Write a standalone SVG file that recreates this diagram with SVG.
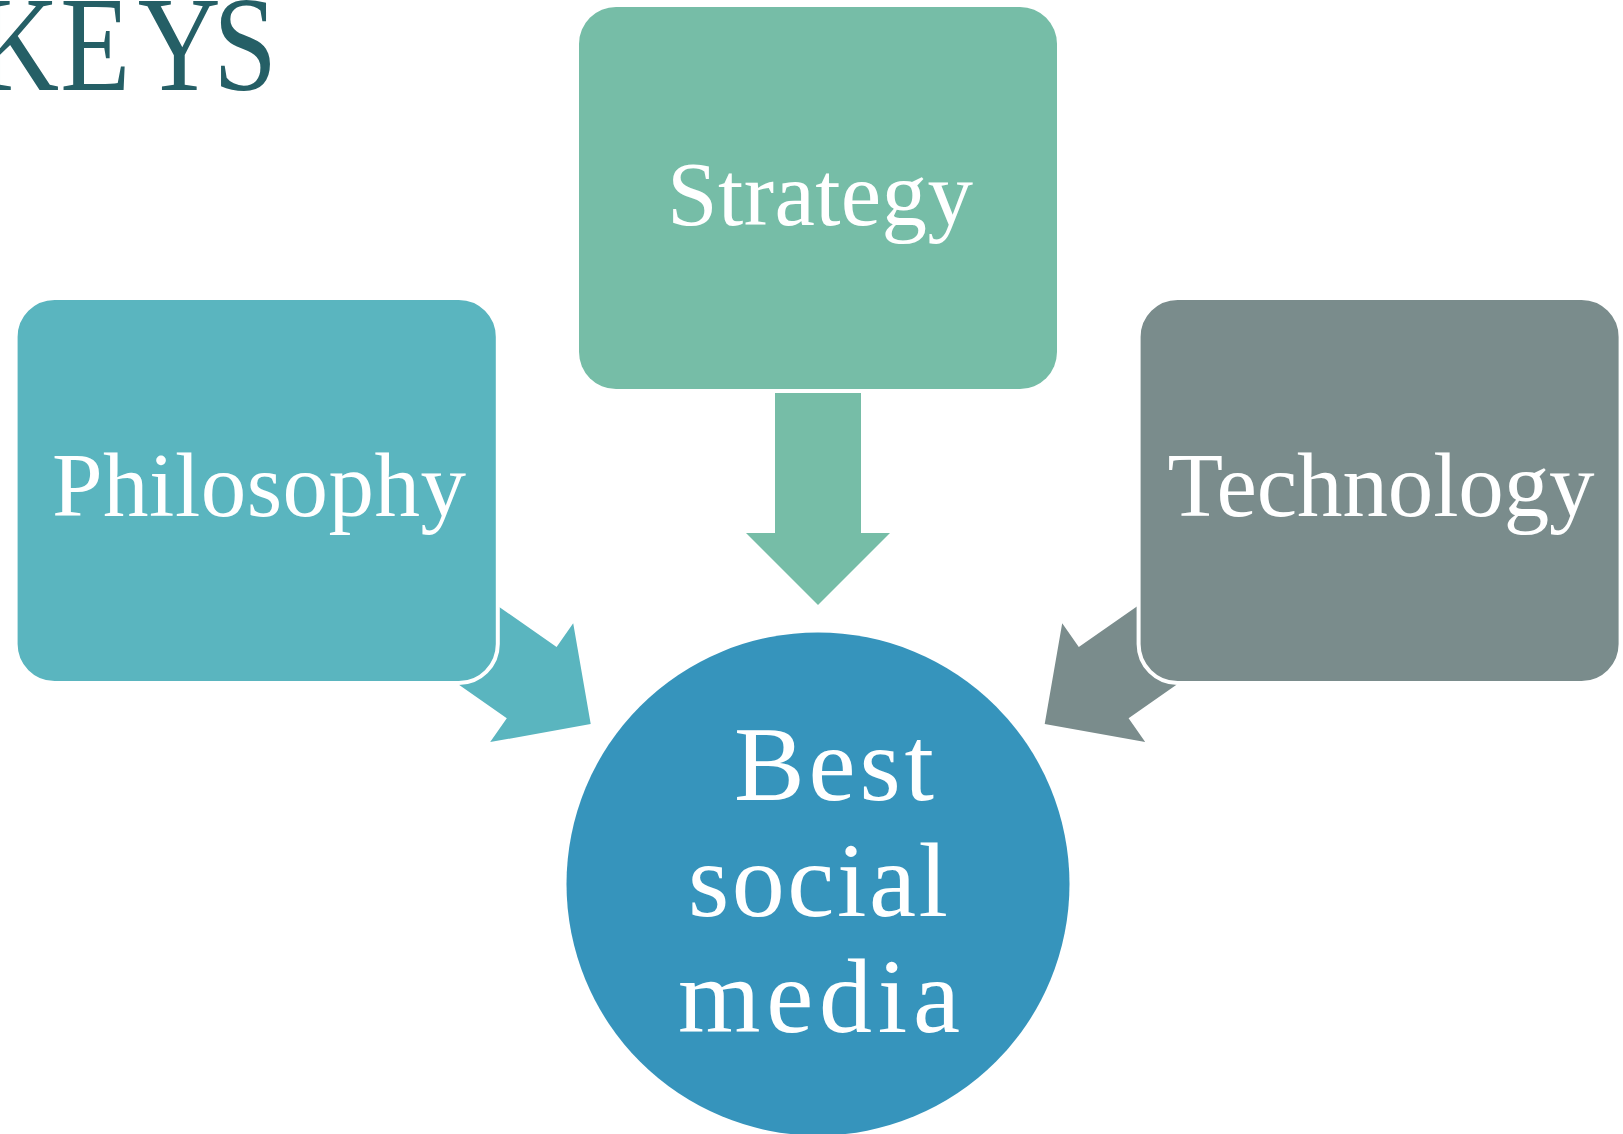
<svg xmlns="http://www.w3.org/2000/svg" width="1623" height="1134" viewBox="0 0 1623 1134">
<style>
.lbl{font-family:"Liberation Serif","DejaVu Serif",serif;fill:#ffffff;font-size:91px;text-anchor:middle}
.big{font-size:106px}
.box{stroke:#ffffff;stroke-width:4}
.key{font-family:"Liberation Serif",serif;font-size:135px;fill:#255F66}
</style>
<rect width="1623" height="1134" fill="#ffffff"/>
<g id="title" transform="scale(0.85,1)">
<text class="key" x="-28 71 162 251" y="90">KEYS</text>
</g>
<g id="connectors">
<polygon points="775,393 861,393 861,533 890,533 818,605 746,533 775,533" fill="#76BDA7"/>
<polygon points="441.9,566.9 556.6,647.1 573.2,623.3 590.7,724 490.2,742.1 506.8,718.3 392.1,638.1" fill="#5AB5BF"/>
<polygon points="1193.5,566.9 1078.8,647.1 1062.2,623.3 1044.7,724 1145.2,742.1 1128.6,718.3 1243.3,638.1" fill="#7A8C8C"/>
</g>
<g id="strategy">
<rect x="579" y="7" width="478" height="382" rx="37" fill="#76BDA7"/>
<text class="lbl" x="820" y="225" textLength="306" lengthAdjust="spacing">Strategy</text>
</g>
<g id="philosophy">
<rect class="box" x="15.6" y="298" width="482.2" height="385" rx="39" fill="#5AB5BF"/>
<text class="lbl" x="259" y="516" textLength="414" lengthAdjust="spacing">Philosophy</text>
</g>
<g id="technology">
<rect class="box" x="1138.6" y="298" width="482" height="385" rx="39" fill="#7A8C8C"/>
<text class="lbl" x="1381" y="516" textLength="427" lengthAdjust="spacing">Technology</text>
</g>
<g id="best">
<circle cx="818" cy="884" r="251.5" fill="#3694BC"/>
<text class="lbl big" x="834" y="800" textLength="200" lengthAdjust="spacing">Best</text>
<text class="lbl big" x="818" y="916" textLength="260" lengthAdjust="spacing">social</text>
<text class="lbl big" x="819" y="1032" textLength="282" lengthAdjust="spacing">media</text>
</g>
</svg>
